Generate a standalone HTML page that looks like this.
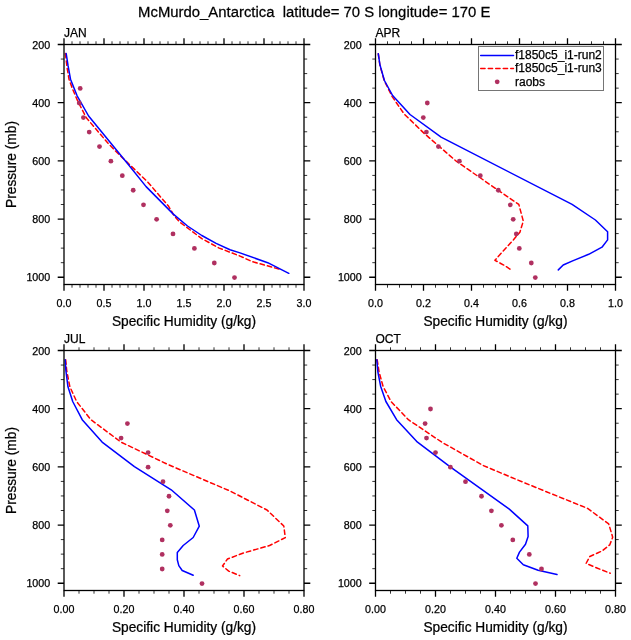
<!DOCTYPE html>
<html lang="en">
<head>
<meta charset="utf-8">
<title>McMurdo_Antarctica specific humidity profiles</title>
<style>
html,body{margin:0;padding:0;background:#fff;}
body{width:631px;height:640px;overflow:hidden;}
svg{display:block;will-change:transform;}
text{font-family:"Liberation Sans", Arial, Helvetica, sans-serif;fill:#000;stroke:#000;stroke-width:0.25px;}
.t10{font-size:10.7px;}
.t12{font-size:12px;}
.t135{font-size:14.2px;}
.t14{font-size:15.5px;}
</style>
</head>
<body>
<svg width="631" height="640" viewBox="0 0 631 640">
<rect x="0" y="0" width="631" height="640" fill="#ffffff"/>
<text class="t14" transform="translate(314.2 16.5) scale(0.96 1)" text-anchor="middle" xml:space="preserve">McMurdo_Antarctica  latitude= 70 S longitude= 170 E</text>
<g id="panel-jan">
<path d="M60.8 59.05H64M304 59.05H307.2M60.8 73.59H64M304 73.59H307.2M60.8 88.14H64M304 88.14H307.2M60.8 117.23H64M304 117.23H307.2M60.8 131.77H64M304 131.77H307.2M60.8 146.32H64M304 146.32H307.2M60.8 175.41H64M304 175.41H307.2M60.8 189.95H64M304 189.95H307.2M60.8 204.5H64M304 204.5H307.2M60.8 233.59H64M304 233.59H307.2M60.8 248.14H64M304 248.14H307.2M60.8 262.68H64M304 262.68H307.2M72 41.3V44.5M72 284.5V287.7M80 41.3V44.5M80 284.5V287.7M88 41.3V44.5M88 284.5V287.7M96 41.3V44.5M96 284.5V287.7M112 41.3V44.5M112 284.5V287.7M120 41.3V44.5M120 284.5V287.7M128 41.3V44.5M128 284.5V287.7M136 41.3V44.5M136 284.5V287.7M152 41.3V44.5M152 284.5V287.7M160 41.3V44.5M160 284.5V287.7M168 41.3V44.5M168 284.5V287.7M176 41.3V44.5M176 284.5V287.7M192 41.3V44.5M192 284.5V287.7M200 41.3V44.5M200 284.5V287.7M208 41.3V44.5M208 284.5V287.7M216 41.3V44.5M216 284.5V287.7M232 41.3V44.5M232 284.5V287.7M240 41.3V44.5M240 284.5V287.7M248 41.3V44.5M248 284.5V287.7M256 41.3V44.5M256 284.5V287.7M272 41.3V44.5M272 284.5V287.7M280 41.3V44.5M280 284.5V287.7M288 41.3V44.5M288 284.5V287.7M296 41.3V44.5M296 284.5V287.7" stroke="#000" stroke-width="0.8" fill="none"/>
<path d="M57.7 44.5H64M304 44.5H310.3M57.7 102.68H64M304 102.68H310.3M57.7 160.86H64M304 160.86H310.3M57.7 219.05H64M304 219.05H310.3M57.7 277.23H64M304 277.23H310.3M64 38.2V44.5M64 284.5V290.8M104 38.2V44.5M104 284.5V290.8M144 38.2V44.5M144 284.5V290.8M184 38.2V44.5M184 284.5V290.8M224 38.2V44.5M224 284.5V290.8M264 38.2V44.5M264 284.5V290.8M304 38.2V44.5M304 284.5V290.8" stroke="#000" stroke-width="1.3" fill="none"/>
<polyline points="65.4,53.5 67.1,67.8 69,79.2 72.8,89.6 78.5,102.9 80,105.5 86.5,118 108,143.2 119,154.5 127.5,162.6 148.1,182.4 163.2,200 168.5,206.1 174.1,215.7 179.6,222 201.8,238.6 219.2,248.1 230,252.2 240,256.1 252.2,261.6 280.1,269.4" fill="none" stroke="#ff0000" stroke-width="1.5" stroke-linejoin="round" stroke-linecap="round" stroke-dasharray="4.4 3.1"/>
<polyline points="66.2,53.5 68.1,65.9 70.5,79.2 77.1,95.8 81.4,103.4 88.6,116 127.5,163.4 146.1,186.6 173.3,214.1 187.5,226 201.8,235.5 216.1,243.4 230,249.7 240,252.9 267.7,262.7 288.8,273.3" fill="none" stroke="#0000ff" stroke-width="1.5" stroke-linejoin="round" stroke-linecap="round"/>
<circle cx="80.2" cy="88.44" r="2.4" fill="#b03060"/>
<circle cx="79.2" cy="102.98" r="2.4" fill="#b03060"/>
<circle cx="83.4" cy="117.53" r="2.4" fill="#b03060"/>
<circle cx="89.2" cy="132.07" r="2.4" fill="#b03060"/>
<circle cx="99.5" cy="146.62" r="2.4" fill="#b03060"/>
<circle cx="110.9" cy="161.16" r="2.4" fill="#b03060"/>
<circle cx="122.3" cy="175.71" r="2.4" fill="#b03060"/>
<circle cx="133.2" cy="190.25" r="2.4" fill="#b03060"/>
<circle cx="143.5" cy="204.8" r="2.4" fill="#b03060"/>
<circle cx="156.6" cy="219.35" r="2.4" fill="#b03060"/>
<circle cx="173" cy="233.89" r="2.4" fill="#b03060"/>
<circle cx="194.4" cy="248.44" r="2.4" fill="#b03060"/>
<circle cx="214.3" cy="262.98" r="2.4" fill="#b03060"/>
<circle cx="234.5" cy="277.53" r="2.4" fill="#b03060"/>
<rect x="64" y="44.5" width="240" height="240" fill="none" stroke="#000" stroke-width="1.3"/>
<text class="t12" x="64" y="36.9">JAN</text>
<text class="t10" x="50.2" y="48.7" text-anchor="end">200</text>
<text class="t10" x="50.2" y="106.88" text-anchor="end">400</text>
<text class="t10" x="50.2" y="165.06" text-anchor="end">600</text>
<text class="t10" x="50.2" y="223.25" text-anchor="end">800</text>
<text class="t10" x="50.2" y="281.43" text-anchor="end">1000</text>
<text class="t10" x="64" y="306.5" text-anchor="middle">0.0</text>
<text class="t10" x="104" y="306.5" text-anchor="middle">0.5</text>
<text class="t10" x="144" y="306.5" text-anchor="middle">1.0</text>
<text class="t10" x="184" y="306.5" text-anchor="middle">1.5</text>
<text class="t10" x="224" y="306.5" text-anchor="middle">2.0</text>
<text class="t10" x="264" y="306.5" text-anchor="middle">2.5</text>
<text class="t10" x="304" y="306.5" text-anchor="middle">3.0</text>
<text class="t135" transform="translate(184 325.5) scale(0.967 1)" text-anchor="middle">Specific Humidity (g/kg)</text>
<text class="t135" transform="translate(15.8 164.5) rotate(-90) scale(0.967 1)" text-anchor="middle">Pressure (mb)</text>
</g>
<g id="panel-apr">
<path d="M372.3 59.05H375.5M615.5 59.05H618.7M372.3 73.59H375.5M615.5 73.59H618.7M372.3 88.14H375.5M615.5 88.14H618.7M372.3 117.23H375.5M615.5 117.23H618.7M372.3 131.77H375.5M615.5 131.77H618.7M372.3 146.32H375.5M615.5 146.32H618.7M372.3 175.41H375.5M615.5 175.41H618.7M372.3 189.95H375.5M615.5 189.95H618.7M372.3 204.5H375.5M615.5 204.5H618.7M372.3 233.59H375.5M615.5 233.59H618.7M372.3 248.14H375.5M615.5 248.14H618.7M372.3 262.68H375.5M615.5 262.68H618.7M387.5 41.3V44.5M387.5 284.5V287.7M399.5 41.3V44.5M399.5 284.5V287.7M411.5 41.3V44.5M411.5 284.5V287.7M435.5 41.3V44.5M435.5 284.5V287.7M447.5 41.3V44.5M447.5 284.5V287.7M459.5 41.3V44.5M459.5 284.5V287.7M483.5 41.3V44.5M483.5 284.5V287.7M495.5 41.3V44.5M495.5 284.5V287.7M507.5 41.3V44.5M507.5 284.5V287.7M531.5 41.3V44.5M531.5 284.5V287.7M543.5 41.3V44.5M543.5 284.5V287.7M555.5 41.3V44.5M555.5 284.5V287.7M579.5 41.3V44.5M579.5 284.5V287.7M591.5 41.3V44.5M591.5 284.5V287.7M603.5 41.3V44.5M603.5 284.5V287.7" stroke="#000" stroke-width="0.8" fill="none"/>
<path d="M369.2 44.5H375.5M615.5 44.5H621.8M369.2 102.68H375.5M615.5 102.68H621.8M369.2 160.86H375.5M615.5 160.86H621.8M369.2 219.05H375.5M615.5 219.05H621.8M369.2 277.23H375.5M615.5 277.23H621.8M375.5 38.2V44.5M375.5 284.5V290.8M423.5 38.2V44.5M423.5 284.5V290.8M471.5 38.2V44.5M471.5 284.5V290.8M519.5 38.2V44.5M519.5 284.5V290.8M567.5 38.2V44.5M567.5 284.5V290.8M615.5 38.2V44.5M615.5 284.5V290.8" stroke="#000" stroke-width="1.3" fill="none"/>
<polyline points="378.3,53.8 379.9,65.3 384.2,80.5 392,96.3 403.9,113.7 424.3,133.5 456.6,161.5 497.7,189.9 518.8,204.4 523.3,221.1 519.9,232.2 513.3,239.9 502.2,252.1 494.9,260.3 504.4,265.4 511.7,270.3" fill="none" stroke="#ff0000" stroke-width="1.5" stroke-linejoin="round" stroke-linecap="round" stroke-dasharray="4.4 3.1"/>
<polyline points="378.3,53.8 379.9,64.6 384.4,80.5 392.6,95.5 410,114.5 441.1,137.1 572.1,204.4 595.4,220 607.6,231.7 607.6,239.9 602,247.2 588.7,254.3 573.2,260.6 563.2,265 558.3,269.9" fill="none" stroke="#0000ff" stroke-width="1.5" stroke-linejoin="round" stroke-linecap="round"/>
<circle cx="427.3" cy="102.98" r="2.4" fill="#b03060"/>
<circle cx="423.3" cy="117.53" r="2.4" fill="#b03060"/>
<circle cx="426.4" cy="132.07" r="2.4" fill="#b03060"/>
<circle cx="438.4" cy="146.62" r="2.4" fill="#b03060"/>
<circle cx="459.4" cy="161.16" r="2.4" fill="#b03060"/>
<circle cx="480.3" cy="175.71" r="2.4" fill="#b03060"/>
<circle cx="498.3" cy="190.25" r="2.4" fill="#b03060"/>
<circle cx="510.3" cy="204.8" r="2.4" fill="#b03060"/>
<circle cx="513.2" cy="219.35" r="2.4" fill="#b03060"/>
<circle cx="516.3" cy="233.89" r="2.4" fill="#b03060"/>
<circle cx="519.3" cy="248.44" r="2.4" fill="#b03060"/>
<circle cx="531.3" cy="262.98" r="2.4" fill="#b03060"/>
<circle cx="535.3" cy="277.53" r="2.4" fill="#b03060"/>
<rect x="375.5" y="44.5" width="240" height="240" fill="none" stroke="#000" stroke-width="1.3"/>
<text class="t12" x="375.5" y="36.9">APR</text>
<text class="t10" x="361.7" y="48.7" text-anchor="end">200</text>
<text class="t10" x="361.7" y="106.88" text-anchor="end">400</text>
<text class="t10" x="361.7" y="165.06" text-anchor="end">600</text>
<text class="t10" x="361.7" y="223.25" text-anchor="end">800</text>
<text class="t10" x="361.7" y="281.43" text-anchor="end">1000</text>
<text class="t10" x="375.5" y="306.5" text-anchor="middle">0.0</text>
<text class="t10" x="423.5" y="306.5" text-anchor="middle">0.2</text>
<text class="t10" x="471.5" y="306.5" text-anchor="middle">0.4</text>
<text class="t10" x="519.5" y="306.5" text-anchor="middle">0.6</text>
<text class="t10" x="567.5" y="306.5" text-anchor="middle">0.8</text>
<text class="t10" x="615.5" y="306.5" text-anchor="middle">1.0</text>
<text class="t135" transform="translate(495.5 325.5) scale(0.967 1)" text-anchor="middle">Specific Humidity (g/kg)</text>
</g>
<g id="panel-jul">
<path d="M60.8 365.05H64M304 365.05H307.2M60.8 379.59H64M304 379.59H307.2M60.8 394.14H64M304 394.14H307.2M60.8 423.23H64M304 423.23H307.2M60.8 437.77H64M304 437.77H307.2M60.8 452.32H64M304 452.32H307.2M60.8 481.41H64M304 481.41H307.2M60.8 495.95H64M304 495.95H307.2M60.8 510.5H64M304 510.5H307.2M60.8 539.59H64M304 539.59H307.2M60.8 554.14H64M304 554.14H307.2M60.8 568.68H64M304 568.68H307.2M79 347.3V350.5M79 590.5V593.7M94 347.3V350.5M94 590.5V593.7M109 347.3V350.5M109 590.5V593.7M139 347.3V350.5M139 590.5V593.7M154 347.3V350.5M154 590.5V593.7M169 347.3V350.5M169 590.5V593.7M199 347.3V350.5M199 590.5V593.7M214 347.3V350.5M214 590.5V593.7M229 347.3V350.5M229 590.5V593.7M259 347.3V350.5M259 590.5V593.7M274 347.3V350.5M274 590.5V593.7M289 347.3V350.5M289 590.5V593.7" stroke="#000" stroke-width="0.8" fill="none"/>
<path d="M57.7 350.5H64M304 350.5H310.3M57.7 408.68H64M304 408.68H310.3M57.7 466.86H64M304 466.86H310.3M57.7 525.05H64M304 525.05H310.3M57.7 583.23H64M304 583.23H310.3M64 344.2V350.5M64 590.5V596.8M124 344.2V350.5M124 590.5V596.8M184 344.2V350.5M184 590.5V596.8M244 344.2V350.5M244 590.5V596.8M304 344.2V350.5M304 590.5V596.8" stroke="#000" stroke-width="1.3" fill="none"/>
<polyline points="65.7,359.8 66.7,370.6 69.8,386.5 76.6,401.5 90.9,419.7 121,442.1 167.7,464.4 230,491 267,510 283.8,526 285.3,537.7 269.6,545.5 244,552.8 227.5,559 222.5,566 228.7,571.1 239.7,575.6" fill="none" stroke="#ff0000" stroke-width="1.5" stroke-linejoin="round" stroke-linecap="round" stroke-dasharray="4.4 3.1"/>
<polyline points="65.2,359.8 65.9,370.6 67.9,386.5 72.7,401.5 82.2,419.7 102.1,442.1 134.4,466.6 171.2,489.8 194.4,510 199.3,526.2 193.2,537.5 183.2,545.5 177.3,552.5 177.3,559.7 178.8,565.6 182.2,570.5 193.2,575.3" fill="none" stroke="#0000ff" stroke-width="1.5" stroke-linejoin="round" stroke-linecap="round"/>
<circle cx="127.4" cy="423.53" r="2.4" fill="#b03060"/>
<circle cx="121.1" cy="438.07" r="2.4" fill="#b03060"/>
<circle cx="148.1" cy="452.62" r="2.4" fill="#b03060"/>
<circle cx="148.1" cy="467.16" r="2.4" fill="#b03060"/>
<circle cx="163" cy="481.71" r="2.4" fill="#b03060"/>
<circle cx="169" cy="496.25" r="2.4" fill="#b03060"/>
<circle cx="167.3" cy="510.8" r="2.4" fill="#b03060"/>
<circle cx="170.3" cy="525.35" r="2.4" fill="#b03060"/>
<circle cx="162.2" cy="539.89" r="2.4" fill="#b03060"/>
<circle cx="162.2" cy="554.44" r="2.4" fill="#b03060"/>
<circle cx="162.2" cy="568.98" r="2.4" fill="#b03060"/>
<circle cx="202" cy="583.53" r="2.4" fill="#b03060"/>
<rect x="64" y="350.5" width="240" height="240" fill="none" stroke="#000" stroke-width="1.3"/>
<text class="t12" x="64" y="342.9">JUL</text>
<text class="t10" x="50.2" y="354.7" text-anchor="end">200</text>
<text class="t10" x="50.2" y="412.88" text-anchor="end">400</text>
<text class="t10" x="50.2" y="471.06" text-anchor="end">600</text>
<text class="t10" x="50.2" y="529.25" text-anchor="end">800</text>
<text class="t10" x="50.2" y="587.43" text-anchor="end">1000</text>
<text class="t10" x="64" y="612.5" text-anchor="middle">0.00</text>
<text class="t10" x="124" y="612.5" text-anchor="middle">0.20</text>
<text class="t10" x="184" y="612.5" text-anchor="middle">0.40</text>
<text class="t10" x="244" y="612.5" text-anchor="middle">0.60</text>
<text class="t10" x="304" y="612.5" text-anchor="middle">0.80</text>
<text class="t135" transform="translate(184 631.5) scale(0.967 1)" text-anchor="middle">Specific Humidity (g/kg)</text>
<text class="t135" transform="translate(15.8 470.5) rotate(-90) scale(0.967 1)" text-anchor="middle">Pressure (mb)</text>
</g>
<g id="panel-oct">
<path d="M372.3 365.05H375.5M615.5 365.05H618.7M372.3 379.59H375.5M615.5 379.59H618.7M372.3 394.14H375.5M615.5 394.14H618.7M372.3 423.23H375.5M615.5 423.23H618.7M372.3 437.77H375.5M615.5 437.77H618.7M372.3 452.32H375.5M615.5 452.32H618.7M372.3 481.41H375.5M615.5 481.41H618.7M372.3 495.95H375.5M615.5 495.95H618.7M372.3 510.5H375.5M615.5 510.5H618.7M372.3 539.59H375.5M615.5 539.59H618.7M372.3 554.14H375.5M615.5 554.14H618.7M372.3 568.68H375.5M615.5 568.68H618.7M390.5 347.3V350.5M390.5 590.5V593.7M405.5 347.3V350.5M405.5 590.5V593.7M420.5 347.3V350.5M420.5 590.5V593.7M450.5 347.3V350.5M450.5 590.5V593.7M465.5 347.3V350.5M465.5 590.5V593.7M480.5 347.3V350.5M480.5 590.5V593.7M510.5 347.3V350.5M510.5 590.5V593.7M525.5 347.3V350.5M525.5 590.5V593.7M540.5 347.3V350.5M540.5 590.5V593.7M570.5 347.3V350.5M570.5 590.5V593.7M585.5 347.3V350.5M585.5 590.5V593.7M600.5 347.3V350.5M600.5 590.5V593.7" stroke="#000" stroke-width="0.8" fill="none"/>
<path d="M369.2 350.5H375.5M615.5 350.5H621.8M369.2 408.68H375.5M615.5 408.68H621.8M369.2 466.86H375.5M615.5 466.86H621.8M369.2 525.05H375.5M615.5 525.05H621.8M369.2 583.23H375.5M615.5 583.23H621.8M375.5 344.2V350.5M375.5 590.5V596.8M435.5 344.2V350.5M435.5 590.5V596.8M495.5 344.2V350.5M495.5 590.5V596.8M555.5 344.2V350.5M555.5 590.5V596.8M615.5 344.2V350.5M615.5 590.5V596.8" stroke="#000" stroke-width="1.3" fill="none"/>
<polyline points="377.2,359.8 379.1,372.2 383.1,386.5 391,401.5 408.4,419.7 442.3,442.5 483.2,465.5 517.7,480 550,493.2 587.6,508.4 608.7,523.9 612.7,537.2 609.8,544.8 602,551 589.8,556.5 586.1,563.4 597.6,568.3 610.2,573.2" fill="none" stroke="#ff0000" stroke-width="1.5" stroke-linejoin="round" stroke-linecap="round" stroke-dasharray="4.4 3.1"/>
<polyline points="376.8,359.8 377.9,372.2 380.7,386.5 385.9,401.5 396.6,419.7 417.5,442.2 449.9,466.6 481,488.8 509.3,509.1 527.8,525.9 528.1,536.6 525.5,544.3 519.5,552.1 516.8,558.3 523.3,564.8 538.1,570.3 557,574.5" fill="none" stroke="#0000ff" stroke-width="1.5" stroke-linejoin="round" stroke-linecap="round"/>
<circle cx="430.5" cy="408.98" r="2.4" fill="#b03060"/>
<circle cx="425.1" cy="423.53" r="2.4" fill="#b03060"/>
<circle cx="426.5" cy="438.07" r="2.4" fill="#b03060"/>
<circle cx="435.5" cy="452.62" r="2.4" fill="#b03060"/>
<circle cx="450.4" cy="467.16" r="2.4" fill="#b03060"/>
<circle cx="465.5" cy="481.71" r="2.4" fill="#b03060"/>
<circle cx="481.5" cy="496.25" r="2.4" fill="#b03060"/>
<circle cx="491.4" cy="510.8" r="2.4" fill="#b03060"/>
<circle cx="501.4" cy="525.35" r="2.4" fill="#b03060"/>
<circle cx="512.8" cy="539.89" r="2.4" fill="#b03060"/>
<circle cx="529.3" cy="554.44" r="2.4" fill="#b03060"/>
<circle cx="541.5" cy="568.98" r="2.4" fill="#b03060"/>
<circle cx="535.5" cy="583.53" r="2.4" fill="#b03060"/>
<rect x="375.5" y="350.5" width="240" height="240" fill="none" stroke="#000" stroke-width="1.3"/>
<text class="t12" x="375.5" y="342.9">OCT</text>
<text class="t10" x="361.7" y="354.7" text-anchor="end">200</text>
<text class="t10" x="361.7" y="412.88" text-anchor="end">400</text>
<text class="t10" x="361.7" y="471.06" text-anchor="end">600</text>
<text class="t10" x="361.7" y="529.25" text-anchor="end">800</text>
<text class="t10" x="361.7" y="587.43" text-anchor="end">1000</text>
<text class="t10" x="375.5" y="612.5" text-anchor="middle">0.00</text>
<text class="t10" x="435.5" y="612.5" text-anchor="middle">0.20</text>
<text class="t10" x="495.5" y="612.5" text-anchor="middle">0.40</text>
<text class="t10" x="555.5" y="612.5" text-anchor="middle">0.60</text>
<text class="t10" x="615.5" y="612.5" text-anchor="middle">0.80</text>
<text class="t135" transform="translate(495.5 631.5) scale(0.967 1)" text-anchor="middle">Specific Humidity (g/kg)</text>
</g>
<g id="legend">
<rect x="478.5" y="46.5" width="125" height="44" fill="#ffffff" stroke="#757575" stroke-width="1"/>
<path d="M480.7 55.55H513.5" stroke="#0000ff" stroke-width="1.5" stroke-linecap="round" fill="none"/>
<path d="M480.7 68.55H513.5" stroke="#ff0000" stroke-width="1.4" stroke-linecap="round" stroke-dasharray="4.4 3.1" fill="none"/>
<circle cx="497.2" cy="81.8" r="2.4" fill="#b03060"/>
<text class="t12" x="515" y="58.9">f1850c5_i1-run2</text>
<text class="t12" x="515" y="71.8">f1850c5_i1-run3</text>
<text class="t12" x="515" y="85.5">raobs</text>
</g>
</svg>
</body>
</html>
